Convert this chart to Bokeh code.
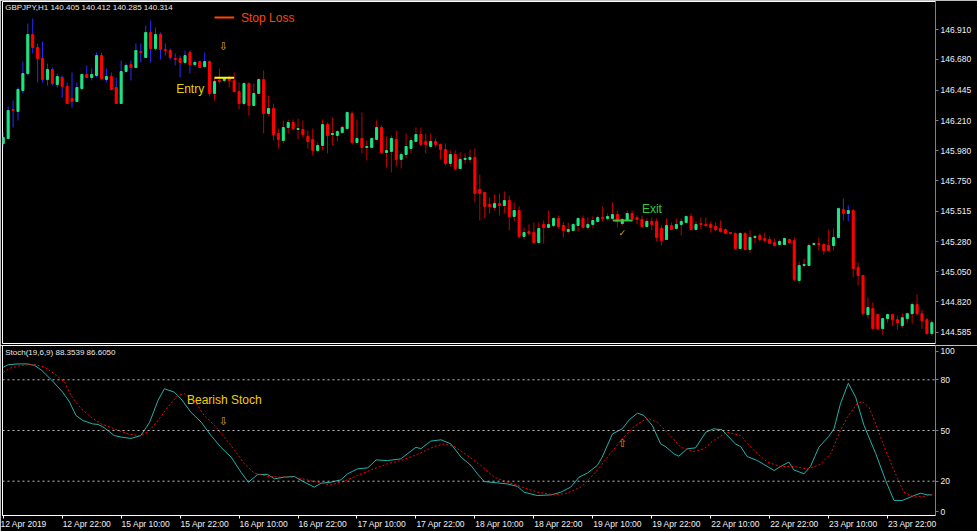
from bokeh.plotting import figure
from bokeh.layouts import column
from bokeh.models import Range1d, FixedTicker, Span, Label, ColumnDataSource, PrintfTickFormatter
from bokeh.embed import file_html
from bokeh.resources import INLINE

# ---------------- data (GBPJPY H1) ----------------
opens = [
146.035, 146.074, 146.296, 146.281, 146.442, 146.572, 146.872, 146.772, 146.687, 146.526,
146.603, 146.488, 146.542, 146.473, 146.381, 146.358, 146.457, 146.565, 146.542, 146.557,
146.710, 146.526, 146.549, 146.465, 146.342, 146.588, 146.641, 146.618, 146.741, 146.695,
146.887, 146.764, 146.872, 146.757, 146.749, 146.687, 146.687, 146.657, 146.733, 146.641,
146.664, 146.626, 146.664, 146.419, 146.519, 146.519, 146.542, 146.519, 146.434, 146.342,
146.496, 146.327, 146.419, 146.526, 146.265, 146.304, 146.112, 146.058, 146.158, 146.196,
146.143, 146.143, 146.089, 146.066, 145.982, 146.020, 146.181, 146.104, 146.097, 146.120,
146.150, 146.265, 146.043, 146.074, 146.005, 146.005, 146.066, 146.158, 145.966, 145.974,
146.066, 145.913, 145.951, 145.997, 146.051, 146.104, 146.051, 146.012, 146.051, 146.028,
145.989, 145.882, 145.951, 145.843, 145.913, 145.913, 145.928, 145.682, 145.659, 145.567,
145.544, 145.575, 145.559, 145.598, 145.475, 145.521, 145.322, 145.360, 145.352, 145.275,
145.414, 145.391, 145.406, 145.460, 145.406, 145.360, 145.368, 145.406, 145.460, 145.391,
145.414, 145.437, 145.467, 145.460, 145.460, 145.490, 145.421, 145.444, 145.498, 145.467,
145.452, 145.398, 145.437, 145.437, 145.383, 145.298, 145.406, 145.383, 145.414, 145.429,
145.475, 145.375, 145.421, 145.414, 145.414, 145.398, 145.383, 145.375, 145.352, 145.345,
145.229, 145.345, 145.222, 145.314, 145.329, 145.306, 145.298, 145.275, 145.260, 145.260,
145.298, 145.291, 144.984, 145.099, 145.099, 145.260, 145.268, 145.260, 145.252, 145.252,
145.314, 145.529, 145.498, 145.521, 145.084, 145.022, 144.722, 144.768, 144.722, 144.614,
144.691, 144.722, 144.683, 144.637, 144.691, 144.729, 144.799, 144.729, 144.683, 144.576,
]
highs = [
146.120, 146.319, 146.365, 146.465, 146.664, 146.956, 146.994, 146.803, 146.818, 146.649,
146.618, 146.572, 146.557, 146.503, 146.580, 146.503, 146.572, 146.634, 146.611, 146.733,
146.733, 146.611, 146.580, 146.542, 146.672, 146.649, 146.672, 146.803, 146.803, 146.941,
146.979, 146.925, 146.887, 146.803, 146.764, 146.726, 146.710, 146.749, 146.749, 146.672,
146.672, 146.733, 146.672, 146.542, 146.611, 146.542, 146.557, 146.580, 146.503, 146.503,
146.503, 146.496, 146.534, 146.595, 146.404, 146.342, 146.150, 146.212, 146.219, 146.219,
146.227, 146.212, 146.135, 146.150, 146.043, 146.219, 146.196, 146.235, 146.135, 146.173,
146.281, 146.281, 146.219, 146.273, 146.058, 146.081, 146.212, 146.173, 146.089, 146.097,
146.135, 145.966, 146.112, 146.081, 146.158, 146.158, 146.112, 146.112, 146.074, 146.035,
146.035, 145.982, 145.982, 145.966, 145.959, 145.989, 145.997, 145.797, 145.659, 145.621,
145.644, 145.652, 145.667, 145.636, 145.583, 145.552, 145.391, 145.414, 145.429, 145.429,
145.444, 145.521, 145.467, 145.483, 145.429, 145.429, 145.421, 145.467, 145.483, 145.467,
145.475, 145.483, 145.552, 145.498, 145.583, 145.521, 145.460, 145.521, 145.521, 145.483,
145.483, 145.460, 145.467, 145.460, 145.406, 145.460, 145.429, 145.460, 145.460, 145.483,
145.498, 145.437, 145.467, 145.467, 145.437, 145.429, 145.444, 145.383, 145.352, 145.352,
145.352, 145.352, 145.368, 145.329, 145.345, 145.352, 145.322, 145.306, 145.298, 145.314,
145.306, 145.314, 145.130, 145.153, 145.268, 145.275, 145.314, 145.268, 145.375, 145.383,
145.544, 145.613, 145.559, 145.529, 145.122, 145.022, 144.854, 144.815, 144.729, 144.698,
144.729, 144.729, 144.714, 144.729, 144.737, 144.815, 144.876, 144.760, 144.698, 144.675,
]
lows = [
146.005, 146.066, 146.158, 146.212, 146.419, 146.557, 146.726, 146.503, 146.503, 146.480,
146.480, 146.465, 146.388, 146.342, 146.311, 146.358, 146.442, 146.534, 146.519, 146.542,
146.526, 146.503, 146.442, 146.342, 146.342, 146.580, 146.519, 146.611, 146.657, 146.695,
146.657, 146.749, 146.680, 146.710, 146.680, 146.634, 146.542, 146.649, 146.572, 146.626,
146.618, 146.618, 146.396, 146.365, 146.496, 146.503, 146.465, 146.427, 146.296, 146.327,
146.250, 146.319, 146.411, 146.112, 146.250, 146.058, 145.997, 146.035, 146.112, 146.135,
146.066, 146.081, 145.997, 145.943, 145.966, 145.982, 145.959, 146.020, 146.051, 146.112,
146.143, 146.028, 146.043, 145.959, 145.905, 146.005, 146.058, 145.959, 145.851, 145.813,
145.859, 145.843, 145.921, 145.959, 146.043, 146.020, 145.959, 146.005, 146.005, 145.913,
145.867, 145.859, 145.828, 145.843, 145.882, 145.890, 145.583, 145.444, 145.460, 145.498,
145.521, 145.483, 145.498, 145.368, 145.437, 145.306, 145.298, 145.329, 145.268, 145.268,
145.268, 145.383, 145.391, 145.383, 145.314, 145.345, 145.360, 145.360, 145.383, 145.375,
145.391, 145.429, 145.437, 145.444, 145.444, 145.391, 145.406, 145.437, 145.444, 145.414,
145.391, 145.391, 145.368, 145.283, 145.252, 145.298, 145.368, 145.375, 145.329, 145.421,
145.368, 145.368, 145.375, 145.391, 145.352, 145.360, 145.352, 145.345, 145.337, 145.222,
145.222, 145.214, 145.199, 145.268, 145.283, 145.275, 145.268, 145.245, 145.260, 145.260,
145.268, 144.976, 144.961, 145.084, 145.091, 145.252, 145.214, 145.183, 145.206, 145.214,
145.306, 145.444, 145.437, 145.007, 144.945, 144.714, 144.691, 144.614, 144.599, 144.568,
144.660, 144.637, 144.606, 144.622, 144.660, 144.654, 144.714, 144.614, 144.568, 144.561,
]
closes = [
146.081, 146.288, 146.288, 146.450, 146.572, 146.872, 146.772, 146.687, 146.526, 146.603,
146.496, 146.549, 146.473, 146.342, 146.358, 146.465, 146.565, 146.542, 146.565, 146.710,
146.534, 146.549, 146.450, 146.342, 146.588, 146.634, 146.618, 146.749, 146.733, 146.887,
146.764, 146.872, 146.757, 146.749, 146.695, 146.680, 146.657, 146.710, 146.641, 146.657,
146.618, 146.664, 146.419, 146.511, 146.511, 146.534, 146.519, 146.434, 146.342, 146.496,
146.327, 146.419, 146.526, 146.265, 146.304, 146.104, 146.066, 146.158, 146.196, 146.150,
146.150, 146.104, 146.051, 145.982, 146.020, 146.181, 146.097, 146.112, 146.127, 146.158,
146.273, 146.043, 146.074, 146.005, 146.012, 146.074, 146.158, 145.966, 145.982, 146.074,
145.913, 145.951, 146.012, 146.058, 146.104, 146.028, 146.028, 146.051, 146.028, 145.989,
145.882, 145.951, 145.843, 145.913, 145.921, 145.928, 145.652, 145.652, 145.552, 145.552,
145.575, 145.559, 145.598, 145.475, 145.521, 145.322, 145.352, 145.345, 145.275, 145.383,
145.391, 145.414, 145.460, 145.398, 145.368, 145.375, 145.414, 145.460, 145.391, 145.414,
145.444, 145.467, 145.460, 145.475, 145.490, 145.437, 145.452, 145.498, 145.460, 145.452,
145.398, 145.437, 145.414, 145.314, 145.291, 145.406, 145.375, 145.414, 145.437, 145.475,
145.375, 145.414, 145.414, 145.406, 145.391, 145.375, 145.360, 145.345, 145.345, 145.229,
145.345, 145.222, 145.314, 145.322, 145.298, 145.291, 145.268, 145.252, 145.283, 145.306,
145.275, 144.991, 145.099, 145.107, 145.252, 145.268, 145.260, 145.214, 145.214, 145.314,
145.536, 145.498, 145.521, 145.076, 145.022, 144.729, 144.776, 144.614, 144.614, 144.691,
144.722, 144.683, 144.660, 144.698, 144.729, 144.799, 144.729, 144.675, 144.576, 144.660,
]

# Stochastic (19,6,9): main line %K and signal %D, read at bar positions
k_bar = [0, 1, 3, 5, 6.4, 7.7, 9.8, 12.1, 13.5, 14.8, 16.2, 18.2, 19.3, 20.6, 22.6, 24, 26, 28, 29.8, 31.5,
         32.8, 34.8, 36.2, 38.2, 40.3, 42.3, 44.3, 46.4, 48.4, 49.9, 51.8, 53.8, 55.2, 57.2, 59.2, 61.3, 63.3,
         64.7, 66.7, 68.7, 70.1, 72.1, 74.2, 75.9, 78.2, 80.9, 84, 85, 87, 89.1, 91.1, 93.2, 95.2, 96.5, 97.9,
         100.6, 102.6, 104.7, 106, 108.7, 111.5, 113.5, 115.5, 117.2, 118.9, 120.9, 121.9, 124, 126, 127.4,
         129.1, 130.4, 132.1, 133.8, 134.8, 136.5, 137.5, 139.2, 140.9, 143, 144.6, 146.3, 149, 150.1, 151.4,
         153.5, 156.9, 158.2, 159.9, 160.9, 163, 164.3, 166, 168, 169.1, 170.4, 172, 173.5, 175.2, 177.6,
         179.6, 181.3, 183, 185.4, 186.7, 188.1, 189]
k_val = [87.5, 88.9, 89.4, 89.4, 88.5, 85.9, 80.0, 72.7, 66.8, 58.9, 55.9, 53.9, 53.6, 51.6, 47.0, 46.1, 45.3, 47.0, 54.9, 67.8,
         74.7, 72.7, 68.7, 60.8, 54.9, 47.0, 40.1, 34.2, 25.3, 19.4, 24.0, 24.0, 21.4, 22.4, 22.8, 19.4, 16.5,
         18.8, 19.4, 20.8, 24.4, 27.3, 27.9, 32.6, 32.2, 33.2, 40.1, 39.2, 43.7, 44.5, 42.1, 34.2, 29.3, 24.4, 19.8,
         19.0, 18.4, 16.9, 13.5, 11.5, 11.9, 13.5, 16.5, 22.4, 24.8, 29.3, 34.2, 48.0, 51.0, 56.3,
         60.3, 58.9, 53.0, 42.1, 40.5, 36.2, 34.8, 39.2, 39.7, 49.0, 51.0, 50.4, 42.1, 40.5, 34.6,
         32.2, 26.3, 28.7, 31.3, 26.7, 24.4, 28.7, 40.1, 46.4, 51.0, 65.8, 78.0, 69.7, 53.0, 36.2,
         20.4, 8.6, 8.6, 11.5, 12.9, 11.9, 11.9]
d_bar = [0, 1.6, 3.7, 6.4, 8.4, 10.4, 12.5, 13.8, 15.9, 17.9, 19.9, 22.6, 25.4, 28, 29.8, 31.5, 33.5, 35.5, 36.9, 38.9,
         40.9, 43, 45, 47.1, 49.1, 51.1, 53.8, 56.5, 59.2, 61.9, 64.7, 66.7, 69.4, 72.1, 74.9, 78.2, 80.9, 84.3,
         87.7, 89.8, 91.8, 94.5, 97.2, 99.9, 102.6, 105.3, 108.7, 112.1, 114.8, 117.6, 120.3, 123, 125.7, 128.4,
         131.1, 133.1, 135.1, 137.9, 140.6, 142.6, 144.6, 147.3, 150.1, 152.8, 155.5, 158.2, 160.9, 163.6, 166.3,
         168.4, 170.4, 171.8, 173.8, 174.8, 176.2, 177.6, 179.6, 181.6, 183.3, 185.4, 187.4, 189.1]
d_val = [84.5, 87.1, 88.5, 89.1, 87.5, 83.5, 78.6, 70.7, 62.8, 57.9, 53.9, 51.0, 48.0, 46.8, 50.0, 55.9, 63.8, 70.7, 71.7, 67.8,
         58.9, 53.0, 46.1, 38.2, 30.3, 24.8, 22.8, 22.4, 22.4, 20.8, 18.8, 17.8, 20.0, 23.4, 26.7, 30.3, 32.2, 35.8,
         40.5, 42.1, 40.5, 35.2, 29.3, 22.4, 19.4, 16.9, 13.5, 11.9, 12.9, 16.5, 24.4, 34.2, 44.1, 52.4,
         57.3, 54.9, 49.0, 40.1, 37.6, 39.2, 44.1, 49.0, 47.0, 38.2, 31.3, 28.7, 28.7, 27.3, 29.9,
         36.2, 50.0, 57.9, 65.8, 67.2, 63.8, 53.9, 38.2, 24.4, 13.5, 10.6, 11.0, 12.1]

time_labels = ["12 Apr 2019", "12 Apr 22:00", "15 Apr 10:00", "15 Apr 22:00", "16 Apr 10:00",
               "16 Apr 22:00", "17 Apr 10:00", "17 Apr 22:00", "18 Apr 10:00", "18 Apr 22:00",
               "19 Apr 10:00", "19 Apr 22:00", "22 Apr 10:00", "22 Apr 22:00", "23 Apr 10:00",
               "23 Apr 22:00"]
time_label_bars = [0, 12, 24, 36, 48, 60, 72, 84, 96, 108, 120, 132, 144, 156, 168, 180]
price_ticks = [146.910, 146.680, 146.445, 146.210, 145.980, 145.750, 145.515, 145.280, 145.050, 144.820, 144.585]
stoch_levels = [80, 50, 20]

header_text = "GBPJPY,H1  140.405 140.412 140.285 140.314"
stoch_text = "Stoch(19,6,9) 88.3539 86.6050"

entry_bars = [43.0, 47.0]
entry_price = 146.539
exit_bars = [124.1, 128.1]
exit_price = 145.444
legend_bars = [43.0, 47.0]
legend_price = 147.002

# ---------------- styling ----------------
BG = "#000000"
BULL = "#1EE685"
BEAR = "#FF0000"
AXIS_FONT = "Liberation Sans"
AXIS_SIZE = "8.5px"

n = len(opens)
bars = list(range(n))
up = [c >= o for o, c in zip(opens, closes)]
src = ColumnDataSource(dict(
    x=bars, high=highs, low=lows,
    top=[max(o, c) for o, c in zip(opens, closes)],
    bottom=[min(o, c) for o, c in zip(opens, closes)],
    bc=[BULL if u else BEAR for u in up],
    wc=["#2A2AFF" if (i <= 41 or 170 <= i <= 172) else "#C00000" for i in bars],
))

x_range = Range1d(-0.15, 189.75)

def style_right_axis(ax):
    ax.axis_line_color = "#808080"
    ax.major_tick_line_color = "#808080"
    ax.major_tick_out = 3
    ax.major_tick_in = 0
    ax.minor_tick_line_color = None
    ax.major_label_text_color = "#F0F0F0"
    ax.major_label_text_font = AXIS_FONT
    ax.major_label_text_font_size = AXIS_SIZE
    ax.major_label_standoff = 2

p1 = figure(width=977, height=345, x_range=x_range, y_range=Range1d(144.500, 147.125),
            x_axis_location=None, y_axis_location="right",
            output_backend="svg", toolbar_location=None,
            min_border_left=2, min_border_right=42, min_border_top=1, min_border_bottom=2,
            background_fill_color=BG, border_fill_color=BG,
            outline_line_color="#FFFFFF", outline_line_width=1)
p1.grid.visible = False
p1.yaxis.ticker = FixedTicker(ticks=price_ticks)
p1.yaxis.formatter = PrintfTickFormatter(format="%.3f")
style_right_axis(p1.yaxis[0])

p1.segment(x0="x", y0="low", x1="x", y1="high", line_color="wc", line_width=1, source=src)
p1.vbar(x="x", width=0.42, top="top", bottom="bottom", fill_color="bc", line_color="bc",
        line_width=1, source=src)

# annotations on price panel
p1.segment(x0=[legend_bars[0]], y0=[legend_price], x1=[legend_bars[1]], y1=[legend_price],
           line_color="#FF4500", line_width=2)
p1.add_layout(Label(x=48.4, y=legend_price, text="Stop Loss", text_color="#FF4500",
                    text_font="Liberation Sans", text_font_size="12px", text_baseline="middle"))
p1.segment(x0=[entry_bars[0]], y0=[entry_price], x1=[entry_bars[1]], y1=[entry_price],
           line_color="#FFFF00", line_width=2)
p1.add_layout(Label(x=35.2, y=146.457, text="Entry", text_color="#E6D200",
                    text_font="Liberation Sans", text_font_size="12px", text_baseline="middle"))
p1.add_layout(Label(x=44.8, y=146.776, text="⇩", text_color="#DAA520", text_align="center",
                    text_font="DejaVu Sans", text_font_size="11px", text_baseline="middle"))
p1.segment(x0=[exit_bars[0]], y0=[exit_price], x1=[exit_bars[1]], y1=[exit_price],
           line_color="#40C040", line_width=2)
p1.add_layout(Label(x=130.0, y=145.533, text="Exit", text_color="#32CD32",
                    text_font="Liberation Sans", text_font_size="12px", text_baseline="middle"))
p1.add_layout(Label(x=126.0, y=145.349, text="✓", text_color="#DAA520", text_align="center",
                    text_font="DejaVu Sans", text_font_size="9px", text_baseline="middle"))
p1.add_layout(Label(x=0.4, y=147.110, text=header_text, text_color="#E8E8E8",
                    text_font=AXIS_FONT, text_font_size="8px", text_baseline="top"))

# ---------------- stochastic panel ----------------
p2 = figure(width=977, height=186, x_range=x_range, y_range=Range1d(-0.3, 100.3),
            x_axis_location="below", y_axis_location="right",
            output_backend="svg", toolbar_location=None,
            min_border_left=2, min_border_right=42, min_border_top=0, min_border_bottom=16,
            background_fill_color=BG, border_fill_color=BG,
            outline_line_color="#FFFFFF", outline_line_width=1)
p2.grid.visible = False
for lv in stoch_levels:
    p2.add_layout(Span(location=lv, dimension="width", line_color="#BEBEBE",
                       line_dash="2 3", line_width=1))
p2.line(k_bar, k_val, line_color="#20B2AA", line_width=1)
p2.line(d_bar, d_val, line_color="#FF0000", line_width=1, line_dash="2 2")

p2.yaxis.ticker = FixedTicker(ticks=[2, 20, 50, 80, 97])
p2.yaxis.major_label_overrides = {2: "0", 20: "20", 50: "50", 80: "80", 97: "100"}
style_right_axis(p2.yaxis[0])

# x labels: MT4 writes them starting at the tick; the axis centres them, so pad the left
# side with no-break spaces of about the same width as the label itself.  The first label
# sits at the left edge, where the axis keeps it inside the canvas, so it is left unpadded.
EM = {"0": .556, "1": .556, "2": .556, "3": .556, "4": .556, "5": .556, "6": .556, "7": .556,
      "8": .556, "9": .556, " ": .278, ":": .278, "A": .667, "p": .556, "r": .333}
def left_pad(t):
    w = sum(EM.get(ch, .556) for ch in t)
    return "\u00a0" * int(round(w / .278)) + t

xa = p2.xaxis[0]
xa.ticker = FixedTicker(ticks=time_label_bars)
overrides = {b: left_pad(t) for b, t in zip(time_label_bars, time_labels)}
overrides[time_label_bars[0]] = time_labels[0]
xa.major_label_overrides = overrides
xa.axis_line_color = "#FFFFFF"
xa.major_tick_line_color = "#FFFFFF"
xa.major_tick_out = 3
xa.major_tick_in = 0
xa.minor_tick_line_color = None
xa.major_label_text_color = "#F0F0F0"
xa.major_label_text_font = AXIS_FONT
xa.major_label_text_font_size = AXIS_SIZE
xa.major_label_standoff = 0

p2.add_layout(Label(x=0.4, y=98.6, text=stoch_text, text_color="#E8E8E8",
                    text_font=AXIS_FONT, text_font_size="8px", text_baseline="top"))
p2.add_layout(Label(x=37.4, y=68.3, text="Bearish Stoch", text_color="#F0D000",
                    text_font="Liberation Sans", text_font_size="12px", text_baseline="middle"))
p2.add_layout(Label(x=44.8, y=55.6, text="⇩", text_color="#DAA520", text_align="center",
                    text_font="DejaVu Sans", text_font_size="11px", text_baseline="middle"))
p2.add_layout(Label(x=126.0, y=42.3, text="⇧", text_color="#FF8C00", text_align="center",
                    text_font="DejaVu Sans", text_font_size="11px", text_baseline="middle"))

layout = column(p1, p2, spacing=0)
html = file_html(layout, INLINE, title="GBPJPY,H1")
html = html.replace("<body>", '<body style="margin:0;background:#000000;overflow:hidden">', 1)
open("out.html", "w").write(html)
